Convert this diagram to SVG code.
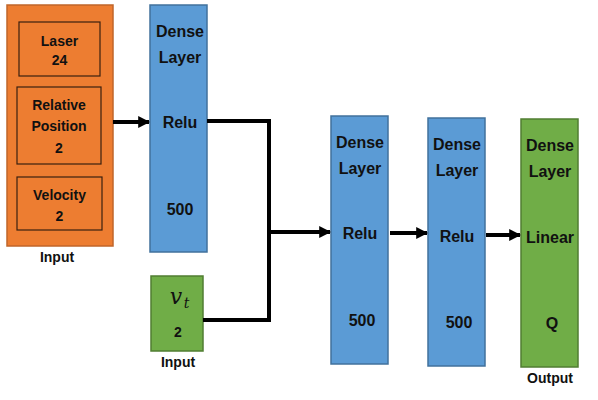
<svg xmlns="http://www.w3.org/2000/svg" width="598" height="400" viewBox="0 0 598 400">
<defs>
<style>
text{font-family:"Liberation Sans",Arial,sans-serif;font-weight:bold;fill:#111;text-anchor:middle}
.big{font-size:16px}
.sm{font-size:14px}
.lab{font-size:14px}
.orange{fill:#ED7D31;stroke:#C0652A;stroke-width:1.5}
.inner{fill:#ED7D31;stroke:#3a2010;stroke-width:1.2}
.blue{fill:#5B9BD5;stroke:#41719C;stroke-width:1.5}
.green{fill:#70AD47;stroke:#507E32;stroke-width:1.5}
.wire{fill:none;stroke:#000;stroke-width:4}
.math{font-family:"DejaVu Serif","Liberation Serif",serif;font-style:italic;font-weight:normal}
</style>
<marker id="ah" viewBox="0 0 10 10" refX="9" refY="5" markerWidth="3" markerHeight="3" orient="auto" markerUnits="strokeWidth">
<path d="M0,0 L10,5 L0,10 z" fill="#000"/>
</marker>
</defs>
<g id="input1">
<rect class="orange" x="7" y="5" width="106" height="241"/>
<rect class="inner" x="19" y="22" width="81" height="54"/>
<text class="sm" x="59.5" y="46">Laser</text>
<text class="sm" x="59.5" y="65">24</text>
<rect class="inner" x="17" y="87" width="84" height="77"/>
<text class="sm" x="59" y="110">Relative</text>
<text class="sm" x="59" y="131">Position</text>
<text class="sm" x="59" y="153">2</text>
<rect class="inner" x="17" y="177" width="85" height="53"/>
<text class="sm" x="59.5" y="200">Velocity</text>
<text class="sm" x="59.5" y="221">2</text>
<text class="lab" x="57" y="262">Input</text>
</g>
<g id="dense1">
<rect class="blue" x="150" y="5" width="57" height="247"/>
<text class="big" x="180" y="37">Dense</text>
<text class="big" x="180" y="63">Layer</text>
<text class="big" x="180" y="128">Relu</text>
<text class="big" x="180" y="215">500</text>
</g>
<g id="input2">
<rect class="green" x="151" y="276" width="52" height="75"/>
<text class="math" x="176" y="304" style="font-size:22px">v</text>
<text class="math" x="186.5" y="308" style="font-size:14px">t</text>
<text class="sm" x="178" y="337">2</text>
<text class="lab" x="178" y="367">Input</text>
</g>
<g id="dense2">
<rect class="blue" x="331" y="116" width="57" height="248"/>
<text class="big" x="360" y="148">Dense</text>
<text class="big" x="360" y="174">Layer</text>
<text class="big" x="360" y="239">Relu</text>
<text class="big" x="362" y="326">500</text>
</g>
<g id="dense3">
<rect class="blue" x="428" y="118" width="57" height="248"/>
<text class="big" x="457" y="150">Dense</text>
<text class="big" x="457" y="176">Layer</text>
<text class="big" x="457" y="242">Relu</text>
<text class="big" x="459" y="328">500</text>
</g>
<g id="output">
<rect class="green" x="521" y="119" width="57" height="248"/>
<text class="big" x="550" y="151">Dense</text>
<text class="big" x="550" y="177">Layer</text>
<text class="big" x="550" y="243">Linear</text>
<text class="big" x="552" y="329">Q</text>
<text class="lab" x="550" y="383">Output</text>
</g>
<g id="connectors">
<line class="wire" x1="113" y1="122" x2="149" y2="122" marker-end="url(#ah)"/>
<polyline class="wire" points="207,121 269,121 269,320 203,320"/>
<line class="wire" x1="269" y1="232" x2="330" y2="232" marker-end="url(#ah)"/>
<line class="wire" x1="390" y1="233" x2="427" y2="233" marker-end="url(#ah)"/>
<line class="wire" x1="486" y1="235" x2="520" y2="235" marker-end="url(#ah)"/>
</g>
</svg>
